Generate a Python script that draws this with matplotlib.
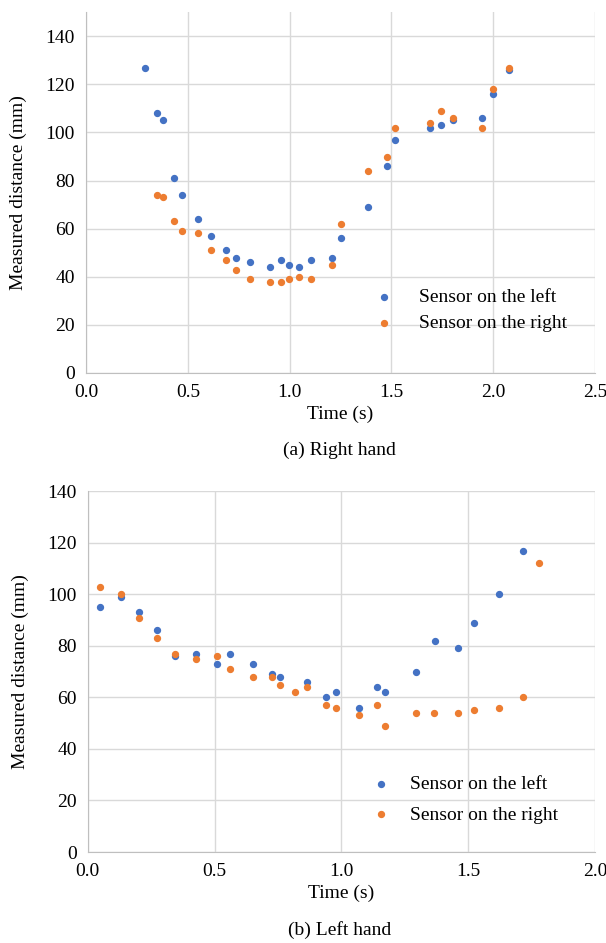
import numpy as np
import matplotlib
matplotlib.use('Agg')
import matplotlib.pyplot as plt

plt.rcParams['font.family'] = ['Liberation Serif', 'DejaVu Serif']

# (a) right hand
right_t_left = [0.29, 0.346, 0.379, 0.43, 0.471, 0.548, 0.616, 0.686, 0.734, 0.804, 0.903, 0.956,
                0.997, 1.048, 1.107, 1.21, 1.251, 1.384, 1.476, 1.517, 1.691, 1.742, 1.803, 1.946,
                1.998, 2.077]
right_d_left = [127, 108, 105, 81, 74, 64, 57, 51, 48, 46, 44, 47,
                45, 44, 47, 48, 56, 69, 86, 97, 102, 103, 105, 106,
                116, 126]
right_t_right = [0.348, 0.379, 0.43, 0.471, 0.548, 0.616, 0.686, 0.734, 0.804, 0.903, 0.956,
                 0.997, 1.048, 1.107, 1.21, 1.251, 1.384, 1.476, 1.517, 1.691, 1.742, 1.803,
                 1.946, 1.998, 2.077]
right_d_right = [74, 73, 63, 59, 58, 51, 47, 43, 39, 38, 38,
                 39, 40, 39, 45, 62, 84, 90, 102, 104, 109, 106,
                 102, 118, 127]

# (b) left hand
left_t_left = [0.048, 0.131, 0.202, 0.273, 0.345, 0.428, 0.509, 0.561, 0.653, 0.726, 0.758,
               0.866, 0.938, 0.979, 1.071, 1.142, 1.173, 1.295, 1.368, 1.459, 1.524, 1.623, 1.717]
left_d_left = [95, 99, 93, 86, 76, 77, 73, 77, 73, 69, 68,
               66, 60, 62, 56, 64, 62, 70, 82, 79, 89, 100, 117]
left_t_right = [0.048, 0.131, 0.202, 0.273, 0.345, 0.428, 0.509, 0.561, 0.653, 0.726, 0.758,
                0.818, 0.866, 0.938, 0.979, 1.071, 1.142, 1.173, 1.295, 1.366, 1.46, 1.524,
                1.623, 1.717, 1.778]
left_d_right = [103, 100, 91, 83, 77, 75, 76, 71, 68, 68, 65,
                62, 64, 57, 56, 53, 57, 49, 54, 54, 54, 55,
                56, 60, 112]

labels = ['Sensor on the left', 'Sensor on the right']
blue = '#4472C4'
orange = '#ED7D31'
grid_c = '#d9d9d9'


def style_axes(ax, xmax, ymax, xpad):
    ax.set_xlim(0, xmax)
    ax.set_ylim(0, ymax)
    ax.set_xticks(np.arange(0, xmax + 0.01, 0.5))
    ax.set_xticklabels(['%.1f' % v for v in np.arange(0, xmax + 0.01, 0.5)])
    ax.set_yticks(np.arange(0, 141, 20))
    ax.grid(True, color=grid_c, linewidth=1)
    ax.set_axisbelow(True)
    for s in ['top', 'right']:
        ax.spines[s].set_visible(False)
    for s in ['left', 'bottom']:
        ax.spines[s].set_color('#bfbfbf')
    ax.tick_params(length=0, labelsize=14, pad=8)
    ax.set_xlabel('Time (s)', fontsize=14, labelpad=xpad)
    ax.set_ylabel('Measured distance (mm)', fontsize=14, labelpad=13)


fig = plt.figure(figsize=(6.06, 9.43), dpi=100)

ax1 = fig.add_axes([0.142, 0.6045, 0.840, 0.3825])
ax1.scatter(right_t_left, right_d_left, s=18, color=blue, label=labels[0], zorder=3)
ax1.scatter(right_t_right, right_d_right, s=18, color=orange, label=labels[1], zorder=3)
style_axes(ax1, 2.5, 150, 3.5)
ax1.legend(loc='upper left', bbox_to_anchor=(0.5125, 0.283), frameon=False, fontsize=14,
           handletextpad=0.8, labelspacing=0.44, scatterpoints=1)
fig.text(0.56, 0.522, '(a) Right hand', ha='center', va='center', fontsize=14)

ax2 = fig.add_axes([0.145, 0.0965, 0.837, 0.3825])
ax2.scatter(left_t_left, left_d_left, s=18, color=blue, label=labels[0], zorder=3)
ax2.scatter(left_t_right, left_d_right, s=18, color=orange, label=labels[1], zorder=3)
style_axes(ax2, 2.0, 140, 3)
ax2.legend(loc='upper left', bbox_to_anchor=(0.505, 0.26), frameon=False, fontsize=14,
           handletextpad=0.5, labelspacing=0.65, scatterpoints=1)
fig.text(0.56, 0.014, '(b) Left hand', ha='center', va='center', fontsize=14)

fig.savefig('out.png', dpi=100)
